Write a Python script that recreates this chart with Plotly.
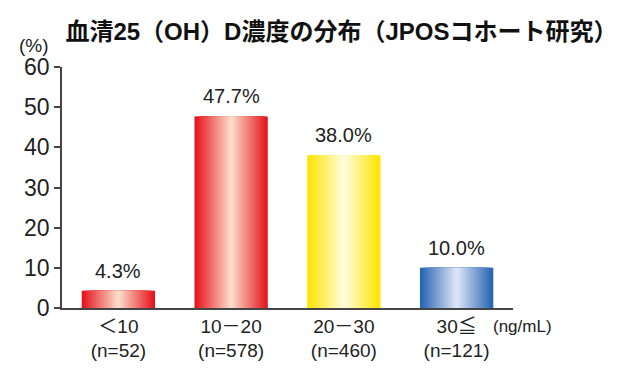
import plotly.graph_objects as go

# ---- data ----
categories = ["＜10", "10－20", "20－30", "30≦"]
sample_sizes = ["(n=52)", "(n=578)", "(n=460)", "(n=121)"]
percentages = [4.3, 47.7, 38.0, 10.0]
value_labels = ["4.3%", "47.7%", "38.0%", "10.0%"]
y_ticks = [0, 10, 20, 30, 40, 50, 60]

# ---- style ----
edge_colors = [(230, 20, 28), (230, 20, 28), (255, 228, 0), (40, 100, 178)]
center_colors = [(250, 218, 200), (250, 218, 200), (255, 252, 220), (218, 228, 244)]
BAR_W = 0.65
STEPS = 18
FONT = "Liberation Sans, Noto Sans CJK JP"

def mix(a, b, t):
    return "rgb(%d,%d,%d)" % tuple(round(a[k] + (b[k] - a[k]) * t) for k in range(3))

fig = go.Figure()
xs = list(range(len(categories)))
for i in range(STEPS):
    t = i / (STEPS - 1)
    w = BAR_W * (1 - i / STEPS)
    fig.add_trace(go.Bar(
        x=xs, y=percentages,
        width=[w] * len(xs),
        marker=dict(color=[mix(edge_colors[j], center_colors[j], t) for j in range(len(xs))],
                    line=dict(width=0)),
        showlegend=False, hoverinfo="skip",
    ))

for j, (x, v, lab) in enumerate(zip(xs, percentages, value_labels)):
    fig.add_annotation(x=x, y=v, text=lab, showarrow=False, yanchor="bottom",
                       yshift=7, font=dict(family=FONT, size=20, color="#222"))

fig.add_annotation(xref="paper", yref="paper", x=1.022, y=-0.0788, text="(ng/mL)",
                   showarrow=False, xanchor="center", yanchor="middle",
                   font=dict(family=FONT, size=17, color="#222"))
fig.add_annotation(xref="paper", yref="paper", x=-0.062, y=1.091, text="(%)",
                   showarrow=False, xanchor="center", yanchor="middle",
                   font=dict(family=FONT, size=19, color="#222"))

fig.update_layout(
    width=640, height=370,
    margin=dict(l=54, r=135, t=59, b=70),
    barmode="overlay",
    paper_bgcolor="white", plot_bgcolor="white",
    title=dict(text="<b>血清25（OH）D濃度の分布（JPOSコホート研究）</b>",
               x=0.521, xanchor="center", y=0.935, yanchor="middle",
               font=dict(family=FONT, size=24, color="#111")),
    font=dict(family=FONT, color="#222"),
)
fig.update_xaxes(
    tickvals=xs,
    ticktext=[c + "<br>" + n for c, n in zip(categories, sample_sizes)],
    range=[-0.5, 3.5], showline=True, linecolor="#444", linewidth=1.5,
    ticks="", tickfont=dict(family=FONT, size=19, color="#222"), showgrid=False,
    automargin=False,
)
fig.update_yaxes(
    range=[0, 60], tickvals=y_ticks, showline=True, linecolor="#444", linewidth=1.5,
    ticks="outside", ticklen=6, tickcolor="#444", tickwidth=1.5,
    tickfont=dict(family=FONT, size=23, color="#222"), showgrid=False, zeroline=False,
    automargin=False,
)

fig.write_html("out.html")
